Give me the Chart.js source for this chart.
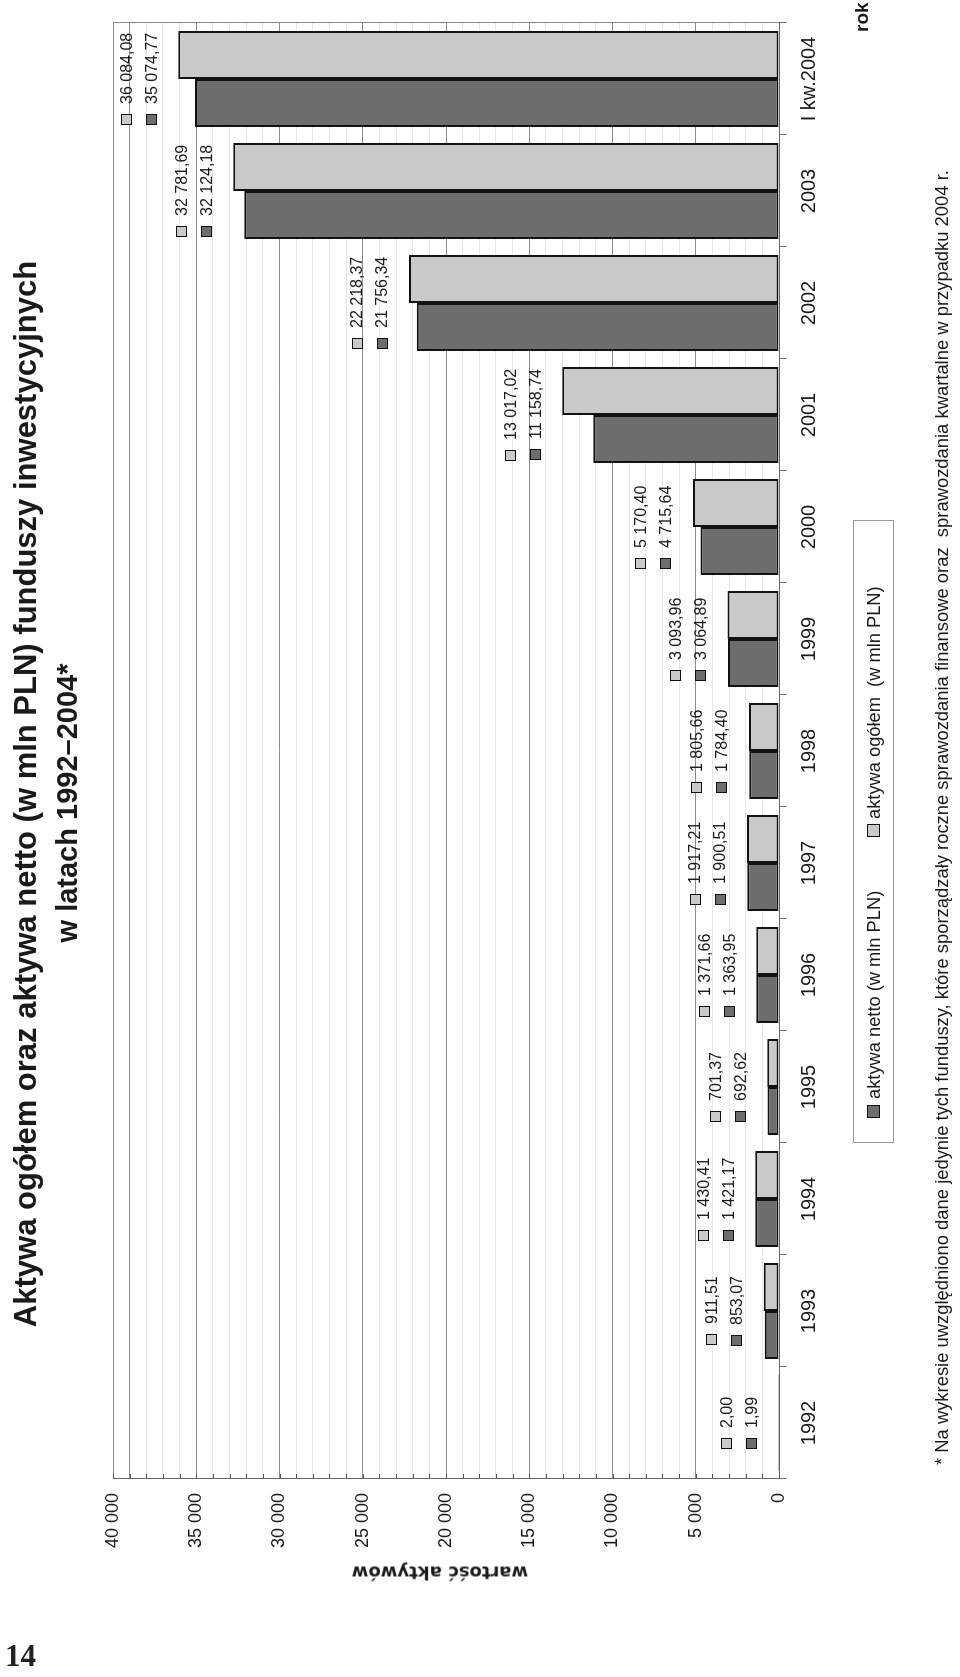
<!DOCTYPE html>
<html lang="pl">
<head>
<meta charset="utf-8">
<title>Aktywa funduszy inwestycyjnych</title>
<script src="https://cdn.jsdelivr.net/npm/chart.js@4/dist/chart.umd.min.js"></script>
<style>
  html, body { margin: 0; padding: 0; background: #fff; }
  body { width: 960px; height: 1677px; position: relative; overflow: hidden; font-family: "Liberation Sans", Arial, sans-serif; color: #1a1a1a; }
  #rot { position: absolute; left: 0; top: 0; width: 1677px; height: 960px; transform-origin: 0 0; transform: translate(0px, 1677px) rotate(-90deg); }
  #chart { position: absolute; left: 0; top: 0; }
  .title { position: absolute; text-align: center; font-weight: bold; white-space: nowrap; width: 1200px; }
  #t1 { left: 283px; top: 6px; font-size: 31px; line-height: 40px; }
  #t2 { left: 274px; top: 47px; font-size: 29px; line-height: 40px; }
  #ytitle { position: absolute; left: 104px; top: 440px; font-family: "DejaVu Sans", sans-serif; font-weight: bold; font-size: 18px; white-space: nowrap; transform: translate(-50%, -50%) rotate(-90deg); }
  #rok { position: absolute; left: 1645px; top: 850px; font-weight: bold; font-size: 19px; line-height: 24px; }
  #legend { position: absolute; left: 534px; top: 853px; width: 621px; height: 39px; border: 1px solid #9a9a9a; }
  .lk { position: absolute; top: 13px; width: 11px; height: 11px; border: 1px solid #111; }
  .lt { position: absolute; top: 0; line-height: 39px; font-size: 18.3px; white-space: nowrap; }
  #foot { position: absolute; left: 212px; top: 930px; font-size: 18.4px; line-height: 24px; white-space: nowrap; }
  #page { position: absolute; left: 5px; top: 1638px; font-family: "Liberation Serif", "DejaVu Serif", serif; font-weight: bold; font-size: 31px; line-height: 36px; color: #222; }
</style>
</head>
<body>
<div id="rot">
  <canvas id="chart" width="1677" height="960"></canvas>
  <div class="title" id="t1">Aktywa ogółem oraz aktywa netto (w mln PLN) funduszy inwestycyjnych</div>
  <div class="title" id="t2">w latach 1992–2004*</div>
  <div id="ytitle">wartość aktywów</div>
  <div id="rok">rok</div>
  <div id="legend">
    <div class="lk" id="k1" style="left:24px"></div>
    <div class="lt" style="left:43px">aktywa netto (w mln PLN)</div>
    <div class="lk" id="k2" style="left:305px"></div>
    <div class="lt" style="left:323px">aktywa ogółem&nbsp; (w mln PLN)</div>
  </div>
  <div id="foot">* Na wykresie uwzględniono dane jedynie tych funduszy, które sporządzały roczne sprawozdania finansowe oraz&nbsp; sprawozdania kwartalne w przypadku 2004 r.</div>
</div>
<div id="page">14</div>
<script>
// ---- data ----
const categories = ['1992', '1993', '1994', '1995', '1996', '1997', '1998', '1999', '2000', '2001', '2002', '2003', 'I kw.2004'];
const aktywaNetto = [1.99, 853.07, 1421.17, 692.62, 1363.95, 1900.51, 1784.40, 3064.89, 4715.64, 11158.74, 21756.34, 32124.18, 35074.77];
const aktywaOgolem = [2.00, 911.51, 1430.41, 701.37, 1371.66, 1917.21, 1805.66, 3093.96, 5170.40, 13017.02, 22218.37, 32781.69, 36084.08];
const valueTickLabels = ['0', '5 000', '10 000', '15 000', '20 000', '25 000', '30 000', '35 000', '40 000'];
const seriesNames = ['aktywa netto (w mln PLN)', 'aktywa ogółem  (w mln PLN)'];

// ---- styles ----
const DARK = '#6c6d6f';
const LIGHT = '#c9cacc';
const FONT = '"Liberation Sans", Arial, sans-serif';
document.getElementById('k1').style.background = DARK;
document.getElementById('k2').style.background = LIGHT;

function fmtValue(v) {
  const parts = v.toFixed(2).split('.');
  return parts[0].replace(/\B(?=(\d{3})+(?!\d))/g, ' ') + ',' + parts[1];
}

const valueLabels = {
  id: 'valueLabels',
  afterDatasetsDraw(chart) {
    const ctx = chart.ctx;
    const m0 = chart.getDatasetMeta(0), m1 = chart.getDatasetMeta(1);
    const xs = chart.scales.x;
    ctx.save();
    ctx.font = '16px ' + FONT;
    ctx.textBaseline = 'middle';
    ctx.textAlign = 'left';
    categories.forEach((c, i) => {
      const top = Math.min(m0.data[i].y, m1.data[i].y);
      const cx = xs.getPixelForValue(i);
      [[1, top - 52], [0, top - 27]].forEach(([d, cy]) => {
        const ds = chart.data.datasets[d];
        const txt = fmtValue(ds.data[i]);
        const tw = ctx.measureText(txt).width;
        const total = 11 + 10 + tw;
        const x0 = Math.round(cx - total / 2);
        const y0 = Math.round(cy - 5.5);
        ctx.fillStyle = ds.backgroundColor;
        ctx.fillRect(x0, y0, 11, 11);
        ctx.strokeStyle = '#111';
        ctx.lineWidth = 1;
        ctx.strokeRect(x0 + 0.5, y0 + 0.5, 10, 10);
        ctx.fillStyle = '#1a1a1a';
        ctx.fillText(txt, x0 + 21, cy + 1);
      });
    });
    ctx.restore();
  }
};

const frameExtras = {
  id: 'frameExtras',
  afterDraw(chart) {
    const ctx = chart.ctx;
    const a = chart.chartArea;
    const ys = chart.scales.y;
    ctx.save();
    ctx.strokeStyle = '#8a8a8a';
    ctx.lineWidth = 1;
    ctx.beginPath();
    ctx.moveTo(Math.round(a.right) + 0.5, a.top);
    ctx.lineTo(Math.round(a.right) + 0.5, a.bottom);
    ctx.stroke();
    ctx.strokeStyle = '#555';
    ys.ticks.forEach(t => {
      const y = Math.round(ys.getPixelForValue(t.value)) + 0.5;
      ctx.beginPath();
      ctx.moveTo(a.left, y);
      ctx.lineTo(a.left + 5, y);
      ctx.stroke();
    });
    ctx.restore();
  }
};

new Chart(document.getElementById('chart'), {
  type: 'bar',
  data: {
    labels: categories,
    datasets: [
      { label: seriesNames[0], data: aktywaNetto, backgroundColor: DARK, borderColor: '#111', borderWidth: 2, borderSkipped: false },
      { label: seriesNames[1], data: aktywaOgolem, backgroundColor: LIGHT, borderColor: '#111', borderWidth: 2, borderSkipped: false }
    ]
  },
  options: {
    responsive: false,
    animation: false,
    devicePixelRatio: 1,
    layout: { padding: { left: 0, top: 113, right: 23, bottom: 0 } },
    datasets: { bar: { barPercentage: 1, categoryPercentage: 0.857 } },
    plugins: { legend: { display: false }, title: { display: false }, tooltip: { enabled: false } },
    scales: {
      x: {
        offset: true,
        grid: { offset: true, drawOnChartArea: false, drawTicks: true, tickLength: 8, color: '#777', lineWidth: 1 },
        border: { display: true, color: '#666', width: 1 },
        ticks: { font: { family: FONT, size: 20 }, color: '#1a1a1a', padding: 10, maxRotation: 0, autoSkip: false },
        afterFit: s => { s.height = 181; }
      },
      y: {
        min: 0, max: 40000,
        ticks: {
          stepSize: 1000, autoSkip: false, padding: 14, color: '#1a1a1a',
          font: { family: FONT, size: 18 },
          callback: v => (v % 5000 === 0 ? valueTickLabels[v / 5000] : '')
        },
        grid: {
          drawTicks: false, lineWidth: 1,
          color: c => ((c.tick.value % 5000 === 0 || c.tick.value === 39000) ? '#8a8a8a' : '#e6e6e6')
        },
        border: { display: true, color: '#666', width: 1 },
        afterFit: s => { s.width = 198; }
      }
    }
  },
  plugins: [valueLabels, frameExtras]
});
</script>
</body>
</html>
